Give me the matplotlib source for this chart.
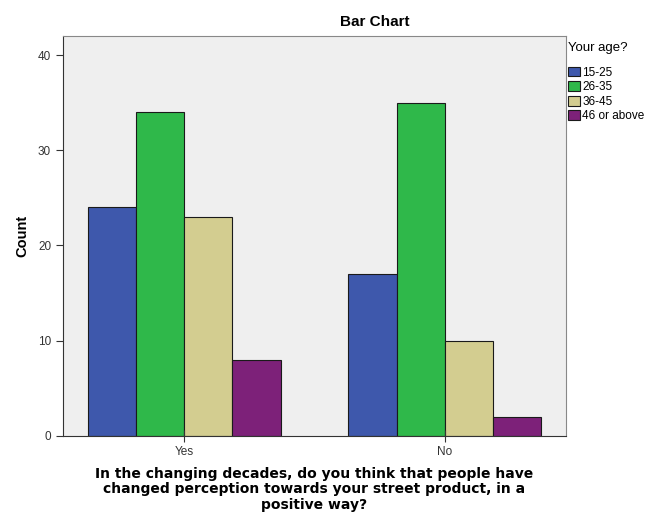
import matplotlib.pyplot as plt
import numpy as np

plt.rcParams["font.family"] = ["Liberation Sans", "DejaVu Sans"]

groups = ["Yes", "No"]
ages = ["15-25", "26-35", "36-45", "46 or above"]
counts = {
    "15-25": [24, 17],
    "26-35": [34, 35],
    "36-45": [23, 10],
    "46 or above": [8, 2],
}
colors = ["#3E58AC", "#2FB84A", "#D3CD90", "#7D2179"]

fig = plt.figure(figsize=(6.55, 5.14), dpi=100)
ax = fig.add_axes([0.096, 0.152, 0.768, 0.778])
ax.set_facecolor("#EFEFEF")

x = np.arange(len(groups))
w = 0.185
for i, (age, c) in enumerate(zip(ages, colors)):
    ax.bar(x + (i - 1.5) * w, counts[age], width=w, color=c,
           edgecolor="#1a1a1a", linewidth=0.8, label=age)

ax.set_xlim(-0.465, 1.465)
ax.set_ylim(0, 42)
ax.set_yticks([0, 10, 20, 30, 40])
ax.set_xticks(x)
ax.set_xticklabels(groups)
ax.tick_params(axis="y", direction="out", length=5, labelsize=8.5, colors="#333333")
ax.tick_params(axis="x", direction="inout", length=8, labelsize=8.5, colors="#333333")
for s in ["left", "bottom"]:
    ax.spines[s].set_color("#333333")
for s in ["top", "right"]:
    ax.spines[s].set_color("#888888")

ax.set_ylabel("Count", fontsize=10.5, fontweight="bold", labelpad=6)
ax.set_xlabel("In the changing decades, do you think that people have\n"
              "changed perception towards your street product, in a\n"
              "positive way?", fontsize=10, fontweight="bold",
              family=["DejaVu Sans"], linespacing=1.15, labelpad=6)

fig.text(375 / 655, 1 - 22 / 514, "Bar Chart", ha="center", va="center",
         fontsize=11, fontweight="bold")

leg = fig.legend(loc="upper left", bbox_to_anchor=(568 / 655, 1 - 42 / 514),
                 title="Your age?", fontsize=8.5, title_fontsize=9.5,
                 frameon=False, handlelength=1.0, handleheight=0.9,
                 handletextpad=0.2, labelspacing=0.22, borderpad=0,
                 borderaxespad=0)
leg._legend_box.align = "left"
leg._legend_box.sep = 9

fig.savefig("out.png", dpi=100)
